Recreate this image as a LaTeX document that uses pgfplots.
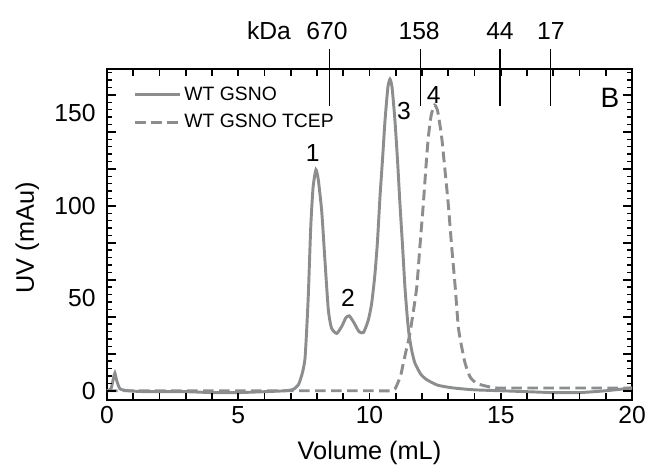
\documentclass[border=0pt]{standalone}
\usepackage{pgfplots}
\pgfplotsset{compat=1.18}
\usepackage{fontspec}
\setmainfont{Liberation Sans}
\definecolor{lg}{RGB}{140,141,143}
\begin{document}
\begin{tikzpicture}
\path (-80.25pt,-49.5pt) rectangle (408.75pt,300pt);
\begin{axis}[
  at={(0pt,0pt)}, anchor=south west,
  scale only axis, width=393.75pt, height=248.25pt,
  xmin=0, xmax=20, ymin=-5, ymax=174,
  clip=false,
  unbounded coords=jump,
  axis line style={line width=1.5pt},
  major tick length=0pt, minor tick length=0pt,
  xtick={0,5,...,20},
  ytick={0,50,100,150},
  /pgf/number format/assume math mode=true,
  tick label style={font=\fontsize{18.5}{22}\selectfont},
  xticklabel style={yshift=-1pt},
  yticklabel style={xshift=-5pt},
  xlabel={Volume (mL)},
  ylabel={UV (mAu)},
  label style={font=\fontsize{19}{22}\selectfont},
  xlabel style={at={(axis description cs:0.5,-0.16)}, anchor=center},
  ylabel style={at={(axis description cs:-0.152,0.49)}, anchor=center},
  legend style={draw=none, fill=none, at={(axis description cs:0.05,0.955)}, anchor=north west,
    font=\fontsize{14.5}{17}\selectfont, row sep=5pt, inner sep=0pt},
  legend cell align=left,
  legend image code/.code={\draw[#1] (0pt,0pt) -- (34pt,0pt);},
]
\addplot[lg, line width=2.2pt, smooth, tension=0.35] coordinates {
(0,0) (0.15,1) (0.25,7) (0.3,9.5) (0.38,5) (0.5,1) (0.8,0) (1.5,-0.5) (3,-0.5) (4,-1) (5,-1) (6,-0.5) (6.8,0) (7.1,0.8) (7.3,3.5) (7.45,10) (7.54,17) (7.6,31) (7.67,52) (7.76,88) (7.85,110) (7.96,119.5) (8.05,114) (8.18,97) (8.3,71) (8.43,44) (8.55,34) (8.75,31) (8.95,35) (9.1,39.5) (9.23,40.5) (9.4,37) (9.6,32) (9.77,31.5) (9.95,38) (10.08,47) (10.2,62) (10.3,80) (10.4,105) (10.5,126) (10.59,146) (10.7,164) (10.78,168.5) (10.86,164) (10.97,146) (11.07,124) (11.16,101) (11.26,78) (11.35,56) (11.45,38) (11.52,29) (11.62,21) (11.73,15) (11.95,9) (12.18,6) (12.6,3) (13.2,1.5) (14,0.5) (15,0) (16,-0.5) (17,-1) (18,-1) (19,0) (20,1.5)
};
\addlegendentry{WT GSNO}
\addplot[lg, line width=2.2pt, dash pattern=on 8pt off 4pt, smooth, tension=0.35] coordinates {
(0,0) (2,0) (5,0) (8,0) (10,0) (10.8,0) (10.97,1) (11.1,5) (11.2,9) (11.29,15) (11.4,22) (11.52,29.5) (11.65,41) (11.8,56) (11.92,78) (12.05,101) (12.15,121) (12.24,137) (12.35,149) (12.48,154.5) (12.6,151) (12.75,137) (12.87,120) (13.0,101) (13.13,78) (13.26,57) (13.38,35) (13.48,26) (13.64,15) (13.83,7.5) (14.08,4) (14.5,2.3) (14.85,1.5) (16,1.5) (18,1.5) (20,1.5)
};
\addlegendentry{WT GSNO TCEP}
% kDa marker lines
\addplot[black, line width=0.8pt, forget plot] coordinates {(8.46,154) (8.46,185)};
\addplot[black, line width=0.8pt, forget plot] coordinates {(11.96,154) (11.96,185)};
\addplot[black, line width=0.8pt, forget plot] coordinates {(14.97,154) (14.97,185)};
\addplot[black, line width=0.8pt, forget plot] coordinates {(16.9,154) (16.9,185)};
% bottom ticks every 1 mL
\addplot[black, line width=1.2pt, forget plot] coordinates {
(0,-5)(0,-1)(nan,nan)(1,-5)(1,-1)(nan,nan)(2,-5)(2,-1)(nan,nan)(3,-5)(3,-1)(nan,nan)(4,-5)(4,-1)(nan,nan)
(5,-5)(5,-1)(nan,nan)(6,-5)(6,-1)(nan,nan)(7,-5)(7,-1)(nan,nan)(8,-5)(8,-1)(nan,nan)(9,-5)(9,-1)(nan,nan)
(10,-5)(10,-1)(nan,nan)(11,-5)(11,-1)(nan,nan)(12,-5)(12,-1)(nan,nan)(13,-5)(13,-1)(nan,nan)(14,-5)(14,-1)(nan,nan)
(15,-5)(15,-1)(nan,nan)(16,-5)(16,-1)(nan,nan)(17,-5)(17,-1)(nan,nan)(18,-5)(18,-1)(nan,nan)(19,-5)(19,-1)(nan,nan)
(20,-5)(20,-1)
};
% top ticks every 1 mL
\addplot[black, line width=1.2pt, forget plot] coordinates {
(0,174)(0,170)(nan,nan)(1,174)(1,170)(nan,nan)(2,174)(2,170)(nan,nan)(3,174)(3,170)(nan,nan)(4,174)(4,170)(nan,nan)
(5,174)(5,170)(nan,nan)(6,174)(6,170)(nan,nan)(7,174)(7,170)(nan,nan)(8,174)(8,170)(nan,nan)(9,174)(9,170)(nan,nan)
(10,174)(10,170)(nan,nan)(11,174)(11,170)(nan,nan)(12,174)(12,170)(nan,nan)(13,174)(13,170)(nan,nan)(14,174)(14,170)(nan,nan)
(15,174)(15,170)(nan,nan)(16,174)(16,170)(nan,nan)(17,174)(17,170)(nan,nan)(18,174)(18,170)(nan,nan)(19,174)(19,170)(nan,nan)
(20,174)(20,170)
};
% left short ticks every 4 mAu
\addplot[black, line width=1.1pt, forget plot] coordinates {
(0,4)(0.19,4)(nan,nan)(0,8)(0.19,8)(nan,nan)(0,12)(0.19,12)(nan,nan)(0,16)(0.19,16)(nan,nan)
(0,24)(0.19,24)(nan,nan)(0,28)(0.19,28)(nan,nan)(0,32)(0.19,32)(nan,nan)(0,36)(0.19,36)(nan,nan)
(0,44)(0.19,44)(nan,nan)(0,48)(0.19,48)(nan,nan)(0,52)(0.19,52)(nan,nan)(0,56)(0.19,56)(nan,nan)
(0,64)(0.19,64)(nan,nan)(0,68)(0.19,68)(nan,nan)(0,72)(0.19,72)(nan,nan)(0,76)(0.19,76)(nan,nan)
(0,84)(0.19,84)(nan,nan)(0,88)(0.19,88)(nan,nan)(0,92)(0.19,92)(nan,nan)(0,96)(0.19,96)(nan,nan)
(0,104)(0.19,104)(nan,nan)(0,108)(0.19,108)(nan,nan)(0,112)(0.19,112)(nan,nan)(0,116)(0.19,116)(nan,nan)
(0,124)(0.19,124)(nan,nan)(0,128)(0.19,128)(nan,nan)(0,132)(0.19,132)(nan,nan)(0,136)(0.19,136)(nan,nan)
(0,144)(0.19,144)(nan,nan)(0,148)(0.19,148)(nan,nan)(0,152)(0.19,152)(nan,nan)(0,156)(0.19,156)(nan,nan)
(0,164)(0.19,164)(nan,nan)(0,168)(0.19,168)(nan,nan)(0,172)(0.19,172)
};
% right short ticks every 4 mAu
\addplot[black, line width=1.1pt, forget plot] coordinates {
(20,4)(19.81,4)(nan,nan)(20,8)(19.81,8)(nan,nan)(20,12)(19.81,12)(nan,nan)(20,16)(19.81,16)(nan,nan)
(20,24)(19.81,24)(nan,nan)(20,28)(19.81,28)(nan,nan)(20,32)(19.81,32)(nan,nan)(20,36)(19.81,36)(nan,nan)
(20,44)(19.81,44)(nan,nan)(20,48)(19.81,48)(nan,nan)(20,52)(19.81,52)(nan,nan)(20,56)(19.81,56)(nan,nan)
(20,64)(19.81,64)(nan,nan)(20,68)(19.81,68)(nan,nan)(20,72)(19.81,72)(nan,nan)(20,76)(19.81,76)(nan,nan)
(20,84)(19.81,84)(nan,nan)(20,88)(19.81,88)(nan,nan)(20,92)(19.81,92)(nan,nan)(20,96)(19.81,96)(nan,nan)
(20,104)(19.81,104)(nan,nan)(20,108)(19.81,108)(nan,nan)(20,112)(19.81,112)(nan,nan)(20,116)(19.81,116)(nan,nan)
(20,124)(19.81,124)(nan,nan)(20,128)(19.81,128)(nan,nan)(20,132)(19.81,132)(nan,nan)(20,136)(19.81,136)(nan,nan)
(20,144)(19.81,144)(nan,nan)(20,148)(19.81,148)(nan,nan)(20,152)(19.81,152)(nan,nan)(20,156)(19.81,156)(nan,nan)
(20,164)(19.81,164)(nan,nan)(20,168)(19.81,168)(nan,nan)(20,172)(19.81,172)
};
% long ticks every 20 mAu, both sides
\addplot[black, line width=1.2pt, forget plot] coordinates {
(0,0)(0.33,0)(nan,nan)(0,20)(0.33,20)(nan,nan)(0,40)(0.33,40)(nan,nan)(0,60)(0.33,60)(nan,nan)
(0,80)(0.33,80)(nan,nan)(0,100)(0.33,100)(nan,nan)(0,120)(0.33,120)(nan,nan)(0,140)(0.33,140)(nan,nan)
(0,160)(0.33,160)
};
\addplot[black, line width=1.2pt, forget plot] coordinates {
(20,0)(19.67,0)(nan,nan)(20,20)(19.67,20)(nan,nan)(20,40)(19.67,40)(nan,nan)(20,60)(19.67,60)(nan,nan)
(20,80)(19.67,80)(nan,nan)(20,100)(19.67,100)(nan,nan)(20,120)(19.67,120)(nan,nan)(20,140)(19.67,140)(nan,nan)
(20,160)(19.67,160)
};
\begin{scope}[font=\fontsize{18.5}{22}\selectfont]
\node at (axis cs:6.17,194.6) {kDa};
\node at (axis cs:8.38,194.6) {670};
\node at (axis cs:11.89,194.6) {158};
\node at (axis cs:14.97,194.6) {44};
\node at (axis cs:16.91,194.6) {17};
\node[font=\fontsize{21}{24}\selectfont] at (axis cs:19.16,158.4) {B};
\node at (axis cs:7.84,128.6) {1};
\node at (axis cs:9.18,50.3) {2};
\node at (axis cs:11.31,151.4) {3};
\node at (axis cs:12.45,160) {4};
\end{scope}
\end{axis}
\end{tikzpicture}
\end{document}
